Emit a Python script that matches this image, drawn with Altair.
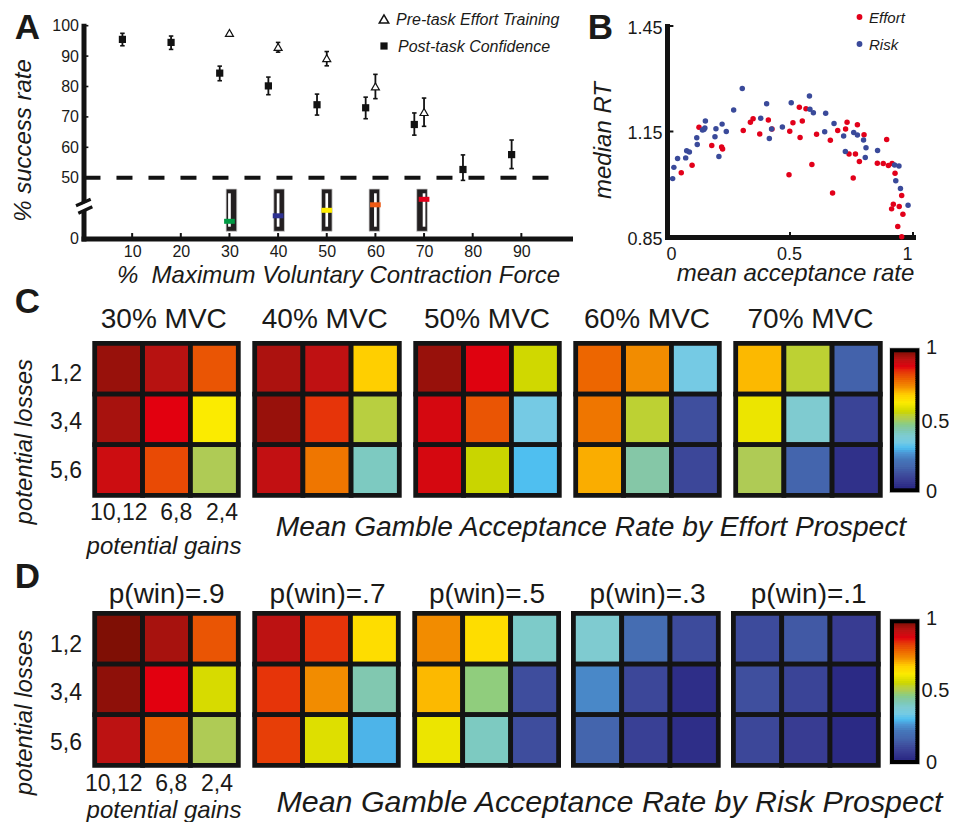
import altair as alt
import pandas as pd

M = 8
W, H = 941, 814
FONT = "Liberation Sans"
INK = "#1a1a18"
LINE = "#121212"

# ---------- panel A ----------
conf_force = [8, 18, 28, 38, 48, 58, 68, 78, 88]
conf_mean = [95.5, 94.5, 84.4, 80.2, 74.0, 73.0, 67.5, 52.7, 57.6]
conf_low = [93.4, 92.2, 81.9, 77.3, 70.6, 69.4, 64.0, 47.8, 53.0]
conf_high = [97.5, 96.6, 86.7, 83.1, 77.5, 76.5, 71.3, 57.5, 62.4]
train_force = [30, 40, 50, 60, 70]
train_mean = [97.6, 93.0, 89.3, 80.0, 71.6]
train_low = [97.6, 91.3, 86.8, 76.0, 66.9]
train_high = [97.6, 94.5, 91.5, 84.0, 76.2]
x_ticks = [10, 20, 30, 40, 50, 60, 70, 80, 90]
y_ticks = [0, 50, 60, 70, 80, 90, 100]
icon_level = [30, 40, 50, 60, 70]
icon_color = ["#009a44", "#2e3191", "#ffed00", "#ee5a14", "#e2001a"]
icon_frame = [11.8, 88.7]
icon_slot = [20.2, 80.9]

# ---------- panel B ----------
effort_x = [.130, .058, .102, .182, .222, .226, .310, .339, .350, .377, .412, .427, .496, .499, .512,
            .538, .550, .565, .541, .589, .608, .664, .673, .694, .726, .732, .740, .757, .766, .774,
            .782, .801, .855, .879, .893, .900, .915, .927, .920, .913, .944, .954, .959, .938, .954]
effort_y = [1.162, 1.033, 1.054, 1.110, 1.106, 1.100, 1.153, 1.176, 1.186, 1.143, 1.183, 1.157, 1.027, 1.151, 1.175,
            1.219, 1.180, 1.215, 1.133, 1.056, 1.142, 1.125, .975, 1.153, 1.157, 1.176, 1.086, 1.018, 1.086, 1.169,
            1.065, 1.141, 1.060, 1.059, 1.127, 1.053, 1.059, 1.031, .943, .930, .937, .968, .915, .880, .851]
risk_x = [.023, .028, .043, .076, .080, .091, .121, .123, .144, .150, .156, .154, .199, .195, .211,
          .224, .241, .271, .306, .381, .405, .416, .425, .469, .505, .579, .581, .595, .641, .645,
          .679, .718, .725, .759, .774, .799, .809, .806, .856, .925, .943, .930, .949, .980]
risk_y = [1.016, 1.048, 1.073, 1.075, 1.095, 1.092, 1.132, 1.113, 1.154, 1.156, 1.180, 1.160, 1.158, 1.135, 1.079,
          1.171, 1.150, 1.211, 1.272, 1.188, 1.229, 1.130, 1.157, 1.163, 1.232, 1.251, 1.213, 1.203, 1.149, 1.202,
          1.173, 1.137, 1.093, 1.147, 1.140, 1.126, 1.104, 1.076, 1.096, 1.055, 1.052, 1.010, .988, .940]

# ---------- panels C and D ----------
gains = ["10,12", "6,8", "2,4"]
losses = ["1,2", "3,4", "5,6"]
effort_titles = ["30% MVC", "40% MVC", "50% MVC", "60% MVC", "70% MVC"]
effort_cells = [
    [[.975, .945, .81], [.96, .88, .62], [.915, .825, .50]],
    [[.955, .935, .68], [.975, .85, .52], [.93, .77, .40]],
    [[.975, .885, .56], [.90, .81, .33], [.90, .55, .29]],
    [[.79, .74, .33], [.77, .53, .10], [.71, .43, .08]],
    [[.70, .53, .14], [.60, .38, .07], [.50, .145, .02]],
]
risk_titles = ["p(win)=.9", "p(win)=.7", "p(win)=.5", "p(win)=.3", "p(win)=.1"]
risk_cells = [
    [[1.0, .96, .81], [.985, .88, .57], [.94, .80, .50]],
    [[.94, .85, .65], [.85, .74, .42], [.84, .58, .28]],
    [[.74, .65, .39], [.70, .47, .095], [.60, .40, .095]],
    [[.38, .17, .09], [.23, .08, .01], [.145, .06, .01]],
    [[.09, .12, .05], [.10, .07, .0], [.08, .05, .0]],
]
cmap_stops = [0, .05, .10, .15, .20, .25, .29, .33, .38, .43, .50, .55, .62, .68, .74, .81, .88, .94, 1.0]
cmap_colors = ["#2b2a85", "#383c92", "#3f4f9e", "#4567ae", "#4575b8", "#4d95d3", "#4fbff0", "#75cae4",
               "#7fcbd0", "#85c7a7", "#afcb55", "#c9d500", "#fbeb00", "#ffcf00", "#f28c00", "#ea5504",
               "#e2000f", "#bc1212", "#7f0f05"]
cbar_levels = [i / 64 for i in range(64)]

color_scale = alt.Scale(domain=cmap_stops, range=cmap_colors)


def label(t, x, y, size, italic=False, bold=False, angle=0, align="center"):
    return alt.Chart(pd.DataFrame({"t": [t]})).mark_text(
        font=FONT, fontSize=size, fontStyle="italic" if italic else "normal",
        fontWeight="bold" if bold else "normal", angle=angle, align=align,
        baseline="middle", color=INK,
    ).encode(x=alt.value(x - M), y=alt.value(y - M), text="t:N")


def sx(lo, hi, dom):
    return alt.Scale(domain=dom, range=[lo - M, hi - M])


layers = []

# ---- A ----
ax = sx(83.5, 570, [0, 100])
ay = alt.Scale(domain=[0, 50, 100], range=[238.5 - M, 177.7 - M, 25.7 - M])
alv = alt.Scale(domain=[10, 90], range=[232.3 - M, 188.3 - M])
common_axis = dict(domainColor=LINE, domainWidth=5, ticks=False, grid=False, labelFont=FONT,
                   labelColor=INK, titleFont=FONT, titleColor=INK, labelOverlap=False, domainCap="square")

tk = pd.DataFrame({"f": x_ticks, "a": [0] * 9, "b": [4.5] * 9})
layers.append(alt.Chart(tk).mark_rule(color=LINE, strokeWidth=2).encode(
    x=alt.X("f:Q", scale=ax, axis=alt.Axis(
        values=x_ticks, labelFontSize=16, labelPadding=5, labelAngle=0, orient="bottom",
        offset=238.5 - M - H, title="%\u00a0 Maximum Voluntary Contraction Force",
        titleFontSize=24, titleFontStyle="italic", titleFontWeight="normal", titleX=338 - M, titleY=275.5 - 238.5,
        titleBaseline="middle", titleAlign="center", **common_axis)),
    y=alt.Y("a:Q", scale=ay, axis=alt.Axis(
        values=y_ticks, labelFontSize=16, labelPadding=5, orient="left", offset=-(83.5 - M),
        title="% success rate", titleFontSize=24, titleFontStyle="italic", titleFontWeight="normal",
        titleAngle=270, titleX=23 - 83.5, titleY=140 - M, titleBaseline="middle", titleAlign="center",
        **common_axis)),
    y2="b:Q"))
ytk = pd.DataFrame({"v": y_ticks[1:], "a": [0] * 6, "b": [1.0] * 6})
layers.append(alt.Chart(ytk).mark_rule(color=LINE, strokeWidth=1.6).encode(
    x=alt.X("a:Q", scale=ax, axis=None), x2="b:Q", y=alt.Y("v:Q", scale=ay, axis=None)))

# axis break
layers.append(alt.Chart(pd.DataFrame({"a": [0]})).mark_rule(color="white", strokeWidth=6).encode(
    x=alt.value(75 - M), x2=alt.value(93 - M), y=alt.value(210.5 - M), y2=alt.value(203 - M)))
layers.append(alt.Chart(pd.DataFrame({"a": [0]})).mark_rule(color=LINE, strokeWidth=3.2).encode(
    x=alt.value(76 - M), x2=alt.value(90.7 - M), y=alt.value(205.7 - M), y2=alt.value(199.3 - M)))
layers.append(alt.Chart(pd.DataFrame({"a": [0]})).mark_rule(color=LINE, strokeWidth=3.2).encode(
    x=alt.value(78.3 - M), x2=alt.value(92.3 - M), y=alt.value(213.3 - M), y2=alt.value(206.7 - M)))

# 50 % dashed line
layers.append(alt.Chart(pd.DataFrame({"a": [0.2], "b": [96.2], "v": [50]})).mark_rule(
    color=LINE, strokeWidth=4, strokeDash=[16, 16]).encode(
    x=alt.X("a:Q", scale=ax, axis=None), x2="b:Q", y=alt.Y("v:Q", scale=ay, axis=None)))

conf = pd.DataFrame({"f": conf_force, "m": conf_mean, "lo": conf_low, "hi": conf_high})
train = pd.DataFrame({"f": train_force, "m": train_mean, "lo": train_low, "hi": train_high})
for d in (train, conf):
    layers.append(alt.Chart(d).mark_rule(color=LINE, strokeWidth=1.8).encode(
        x=alt.X("f:Q", scale=ax, axis=None), y=alt.Y("lo:Q", scale=ay, axis=None), y2="hi:Q"))
    for col in ("lo", "hi"):
        layers.append(alt.Chart(d).mark_tick(orient="horizontal", size=4.5, thickness=1.6, color=LINE,
                                             opacity=1).encode(
            x=alt.X("f:Q", scale=ax, axis=None), y=alt.Y(col + ":Q", scale=ay, axis=None)))
layers.append(alt.Chart(train).mark_point(shape="triangle-up", filled=True, fill="white", stroke=LINE,
                                          strokeWidth=1.2, size=64, opacity=1).encode(
    x=alt.X("f:Q", scale=ax, axis=None), y=alt.Y("m:Q", scale=ay, axis=None)))
layers.append(alt.Chart(conf).mark_square(color=LINE, size=52, opacity=1).encode(
    x=alt.X("f:Q", scale=ax, axis=None), y=alt.Y("m:Q", scale=ay, axis=None)))

# slider icons
icons = pd.DataFrame({"f": train_force, "lev": icon_level, "c": icon_color,
                      "a": [icon_frame[0]] * 5, "b": [icon_frame[1]] * 5,
                      "s0": [icon_slot[0]] * 5, "s1": [icon_slot[1]] * 5})
layers.append(alt.Chart(icons).mark_bar(width=10.7, color="#231f20", stroke="#cfcfcf", strokeWidth=0.8).encode(
    x=alt.X("f:Q", scale=ax, axis=None), y=alt.Y("a:Q", scale=alv, axis=None), y2="b:Q"))
layers.append(alt.Chart(icons).mark_rule(color="white", strokeWidth=2.7).encode(
    x=alt.X("f:Q", scale=ax, axis=None), y=alt.Y("s0:Q", scale=alv, axis=None), y2="s1:Q"))
layers.append(alt.Chart(icons).mark_tick(orient="horizontal", size=10.7, thickness=5, opacity=1).encode(
    x=alt.X("f:Q", scale=ax, axis=None), y=alt.Y("lev:Q", scale=alv, axis=None),
    color=alt.Color("c:N", scale=None)))

# legend A
leg = pd.DataFrame({"a": [0]})
layers.append(alt.Chart(leg).mark_point(shape="triangle-up", filled=True, fill="white", stroke=LINE,
                                        strokeWidth=1.5, size=90, opacity=1).encode(
    x=alt.value(384 - M), y=alt.value(19 - M)))
layers.append(alt.Chart(leg).mark_square(color=LINE, size=52, opacity=1).encode(
    x=alt.value(384 - M), y=alt.value(46 - M)))
layers.append(label("Pre-task Effort Training", 396, 19.5, 16, italic=True, align="left"))
layers.append(label("Post-task Confidence", 398, 46.5, 16, italic=True, align="left"))

# ---- B ----
bx = sx(667, 913, [0, 1])
by = alt.Scale(domain=[.85, 1.45], range=[237 - M, 26 - M])
btk = pd.DataFrame({"v": [.5, 1], "a": [.85, .85], "b": [.864, .864]})
layers.append(alt.Chart(btk).mark_rule(color=LINE, strokeWidth=2).encode(
    x=alt.X("v:Q", scale=bx, axis=alt.Axis(
        values=[0, .5, 1], labelExpr="datum.value === 0.5 ? '0.5' : datum.value", labelFontSize=18, labelPadding=8,
        orient="bottom", offset=237 - M - H, title="mean acceptance rate", titleFontSize=24,
        titleFontStyle="italic", titleFontWeight="normal", titleX=795 - M, titleY=273.5 - 237,
        titleBaseline="middle", titleAlign="center", labelOffset=-1, **common_axis)),
    y=alt.Y("a:Q", scale=by, axis=alt.Axis(
        values=[.85, 1.15, 1.45], format=".2f", labelFontSize=18, labelPadding=5, orient="left", offset=-(667 - M),
        title="median RT", titleFontSize=24, titleFontStyle="italic", titleFontWeight="normal", titleAngle=270,
        titleX=603 - 667, titleY=140 - M, titleBaseline="middle", titleAlign="center", labelOffset=2, **common_axis)),
    y2="b:Q"))
bytk = pd.DataFrame({"v": [1.15, 1.45], "a": [0, 0], "b": [.026, .026]})
layers.append(alt.Chart(bytk).mark_rule(color=LINE, strokeWidth=2).encode(
    x=alt.X("a:Q", scale=bx, axis=None), x2="b:Q", y=alt.Y("v:Q", scale=by, axis=None)))
RED, BLUE = "#e2001a", "#3a4a9a"
for xs, ys, col in ((effort_x, effort_y, RED), (risk_x, risk_y, BLUE)):
    layers.append(alt.Chart(pd.DataFrame({"x": xs, "y": ys})).mark_circle(color=col, size=30, opacity=1).encode(
        x=alt.X("x:Q", scale=bx, axis=None), y=alt.Y("y:Q", scale=by, axis=None)))
for t, y, col in (("Effort", 17, RED), ("Risk", 44, BLUE)):
    layers.append(alt.Chart(leg).mark_circle(color=col, size=34, opacity=1).encode(
        x=alt.value(859.5 - M), y=alt.value(y - M)))
    layers.append(label(t, 869, y + .5, 15, italic=True, align="left"))


# ---- C / D ----
def heat(vals, left, right, top, bottom):
    rows = [{"gain": g, "loss": l, "v": vals[i][j]}
            for i, l in enumerate(losses) for j, g in enumerate(gains)]
    return alt.Chart(pd.DataFrame(rows)).mark_rect(stroke="#141414", strokeWidth=4.8).encode(
        x=alt.X("gain:N", sort=gains, axis=None,
                scale=alt.Scale(domain=gains, range=[left + 2.4 - M, right - 2.4 - M], paddingInner=0, paddingOuter=0)),
        y=alt.Y("loss:N", sort=losses, axis=None,
                scale=alt.Scale(domain=losses, range=[top + 2.4 - M, bottom - 2.4 - M], paddingInner=0, paddingOuter=0)),
        color=alt.Color("v:Q", scale=color_scale, legend=None))


def colorbar(top, bottom):
    cx = sx(894, 915.3, [0, 1])
    cy = sx(bottom, top, [0, 1])
    frame = pd.DataFrame({"a": [0], "b": [1], "c": [0], "d": [1]})
    out = []
    for stroke, sw in (("#cccccc", 9.5), ("#000000", 8)):
        out.append(alt.Chart(frame).mark_rect(color=stroke, stroke=stroke, strokeWidth=sw).encode(
            x=alt.X("a:Q", scale=cx, axis=None), x2="b:Q", y=alt.Y("c:Q", scale=cy, axis=None), y2="d:Q"))
    bands = pd.DataFrame({"a": [0] * 64, "b": [1] * 64, "lev": cbar_levels,
                          "top": [min(l + 1 / 45, 1) for l in cbar_levels]})
    out.append(alt.Chart(bands).mark_rect().encode(
        x=alt.X("a:Q", scale=cx, axis=None), x2="b:Q", y=alt.Y("lev:Q", scale=cy, axis=None), y2="top:Q",
        color=alt.Color("lev:Q", scale=color_scale, legend=None)))
    return out


c_panels = [(92.3, 240.7), (252.3, 401.7), (413.3, 561.7), (573.3, 721.7), (733.3, 882.7)]
d_panels = [(92.3, 240.7), (252.3, 400.7), (412.3, 561), (571, 720.7), (731, 880.7)]
c_title_x = [163.8, 324.8, 487, 647, 810.5]
d_title_x = [166.7, 327.5, 487, 647.5, 808.7]

for vals, (l, r), t, tx in zip(effort_cells, c_panels, effort_titles, c_title_x):
    layers.append(heat(vals, l, r, 341, 497.7))
    layers.append(label(t, tx, 320, 28))
for vals, (l, r), t, tx in zip(risk_cells, d_panels, risk_titles, d_title_x):
    layers.append(heat(vals, l, r, 611, 767.7))
    layers.append(label(t, tx, 595, 28))

layers += colorbar(352.3, 488.3)
layers += colorbar(623.3, 760)
for t, y, x in (("1", 348, 926), ("0.5", 422, 921.5), ("0", 492, 926)):
    layers.append(label(t, x, y, 20, align="left"))
for t, y, x in (("1", 619, 926), ("0.5", 691, 921.5), ("0", 763, 926)):
    layers.append(label(t, x, y, 20, align="left"))

for t, y in zip(losses, (374, 421.7, 471)):
    layers.append(label(t, 66, y, 23))
for t, x in zip(gains, (118.7, 176.3, 222)):
    layers.append(label(t, x, 513, 23))
for t, y in zip(losses, (645, 692.7, 743)):
    layers.append(label(t, 66, y, 23))
for t, x in zip(gains, (113.7, 171.3, 217)):
    layers.append(label(t, x, 783.5, 23))

layers.append(label("potential losses", 25, 441.7, 24, italic=True, angle=270))
layers.append(label("potential losses", 25, 712.5, 24, italic=True, angle=270))
layers.append(label("potential gains", 164, 547, 24, italic=True))
layers.append(label("potential gains", 164, 811, 24, italic=True))
layers.append(label("Mean Gamble Acceptance Rate by Effort Prospect", 591, 527.5, 28.2, italic=True))
layers.append(label("Mean Gamble Acceptance Rate by Risk Prospect", 609.5, 802.5, 30.4, italic=True))

for t, x, y in (("A", 27.5, 27.5), ("B", 600.5, 27.5), ("C", 27.5, 301.5), ("D", 27.5, 576.5)):
    layers.append(label(t, x, y, 35, bold=True))

chart = alt.layer(*layers).resolve_scale(x="independent", y="independent").properties(
    width=W, height=H, padding=0, background="white",
    autosize=alt.AutoSizeParams(type="none"),
).configure_view(stroke=None)

chart.save("out.html", embed_options={"renderer": "svg", "actions": False})
